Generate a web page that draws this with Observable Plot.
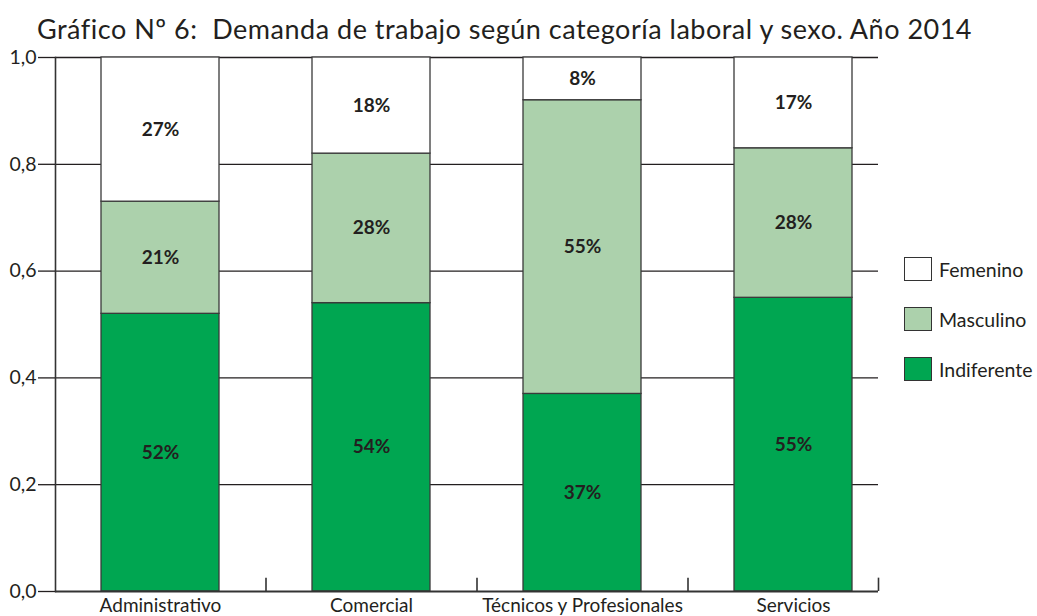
<!DOCTYPE html>
<html>
<head>
<meta charset="utf-8">
<script src="https://cdn.jsdelivr.net/npm/d3@7"></script>
<script src="https://cdn.jsdelivr.net/npm/@observablehq/plot@0.6"></script>
<style>
  body { margin: 0; background: #fff; font-family: Lato, "Open Sans", sans-serif; color: #231f20; }
  #wrap { position: relative; width: 1037px; height: 616px; }
  #title { height: 44px; font-size: 27px; letter-spacing: 0.5px; line-height: 58px; padding-left: 37px; white-space: pre; color: #231f20; overflow: visible; }
  #legend { position: absolute; left: 904px; top: 257px; font-size: 19.5px; }
  .item { display: flex; align-items: center; height: 24px; margin-bottom: 26px; }
  .sw { width: 26px; height: 22px; border: 1.3px solid #333; margin-right: 7px; box-sizing: content-box; flex: none; }
</style>
</head>
<body>
<div id="wrap">
  <div id="title"></div>
  <div id="chart"></div>
  <div id="legend"></div>
</div>
<script>
const titleText = "Gráfico Nº 6:  Demanda de trabajo según categoría laboral y sexo. Año 2014";
const categories = ["Administrativo", "Comercial", "Técnicos y Profesionales", "Servicios"];
const series = ["Indiferente", "Masculino", "Femenino"];
const indiferente = [0.52, 0.54, 0.37, 0.55];
const masculino = [0.21, 0.28, 0.55, 0.28];
const femenino = [0.27, 0.18, 0.08, 0.17];
const colors = ["#00a651", "#acd1ac", "#ffffff"];
const yTicks = [0, 0.2, 0.4, 0.6, 0.8, 1.0];
const legendOrder = ["Femenino", "Masculino", "Indiferente"];

document.getElementById("title").textContent = titleText;

const values = [indiferente, masculino, femenino];
const rows = [];
categories.forEach((c, i) => {
  let acc = 0;
  series.forEach((s, j) => {
    const v = values[j][i];
    rows.push({cat: c, serie: s, value: v, y1: acc, y2: acc + v, mid: acc + v / 2});
    acc += v;
  });
});

const fmtPct = v => Math.round(v * 100) + "%";
const step = 211;

const chart = Plot.plot({
  width: 1037,
  height: 572,
  marginLeft: 55,
  marginRight: 159,
  marginTop: 13,
  marginBottom: 25,
  style: {fontFamily: "Lato, 'Open Sans', sans-serif", color: "#231f20", background: "#fff"},
  x: {domain: categories, range: [54.5, 54.5 + 4 * step], paddingInner: 0.44, paddingOuter: 0.22, label: null},
  y: {domain: [0, 1], label: null},
  color: {domain: series, range: colors},
  marks: [
    Plot.ruleY(yTicks.filter(d => d > 0), {stroke: "#231f20", strokeWidth: 1.3}),
    Plot.barY(rows, {x: "cat", y1: "y1", y2: "y2", fill: "serie", stroke: "#3a3a3a", strokeWidth: 1.3}),
    Plot.text(rows, {x: "cat", y: "mid", text: d => fmtPct(d.value), fontSize: 19, fontWeight: "bold", fill: "#231f20"}),
    Plot.ruleX(categories.slice(0, 3), {x: d => d, dx: step / 2, y1: 0, y2: 0.025, stroke: "#333", strokeWidth: 1.6}),
    Plot.ruleX(categories.slice(3), {x: d => d, dx: 85, y1: 0, y2: 0.025, stroke: "#333", strokeWidth: 1.6}),
    Plot.ruleY([0], {stroke: "#333", strokeWidth: 2}),
    Plot.frame({anchor: "left", stroke: "#333", strokeWidth: 1.6}),
    Plot.axisY({ticks: yTicks, tickFormat: d => d.toFixed(1).replace(".", ","), tickSize: 17, tickPadding: 2, fontSize: 19.5, stroke: "#231f20", strokeWidth: 1.3}),
    Plot.axisX({tickSize: 0, tickPadding: 7, fontSize: 19})
  ]
});
document.getElementById("chart").appendChild(chart);

const legend = d3.select("#legend");
legendOrder.forEach(name => {
  const it = legend.append("div").attr("class", "item");
  it.append("div").attr("class", "sw").style("background", colors[series.indexOf(name)]);
  it.append("span").text(name);
});
</script>
</body>
</html>
